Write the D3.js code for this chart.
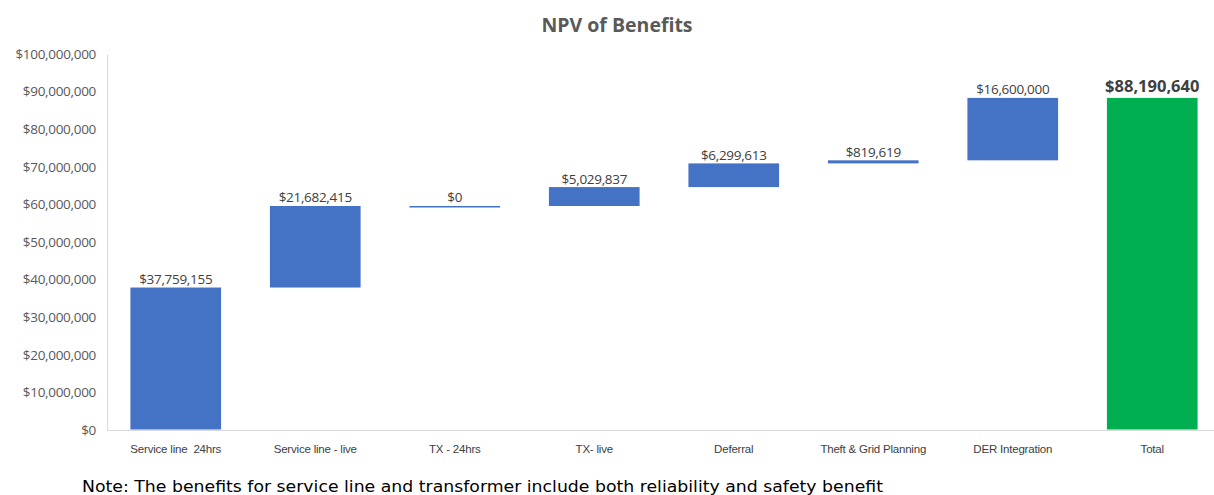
<!DOCTYPE html>
<html><head><meta charset="utf-8">
<script src="https://cdn.jsdelivr.net/npm/d3@7"></script>
<style>
body{margin:0;background:#fff;}
svg{display:block;}
</style></head>
<body><svg id="c" width="1214" height="495"></svg>
<script>
const categories = ["Service line\u00a0\u00a024hrs","Service line - live","TX - 24hrs","TX- live","Deferral","Theft & Grid Planning","DER Integration","Total"];
const values = [37759155,21682415,0,5029837,6299613,819619,16600000,88190640];
const isTotal = [false,false,false,false,false,false,false,true];
const yTicks = [0,10000000,20000000,30000000,40000000,50000000,60000000,70000000,80000000,90000000,100000000];

const svg = d3.select("#c");
const font = "'Open Sans', 'Liberation Sans', Arial, sans-serif";
const narrow = "'Liberation Sans', Arial, sans-serif";
const x = d3.scaleBand().domain(categories).range([106,1222]).paddingInner(0.35).paddingOuter(0.175);
const y = d3.scaleLinear().domain([0,100000000]).range([430,54]);

// compute waterfall
let run = 0;
const bars = categories.map((c,i)=>{
  let b, t;
  if(isTotal[i]){ b=0; t=values[i]; }
  else { b=run; t=run+values[i]; run=t; }
  return {c, v:values[i], b, t, total:isTotal[i]};
});

// title
svg.append("text").attr("x",617).attr("y",32).attr("text-anchor","middle")
  .style("font-family",font).style("font-size","19.5px").style("font-weight","bold").attr("fill","#595959")
  .text("NPV of Benefits");

// y axis
const fmt = d=>"$"+d3.format(",")(d);
const yAxis = svg.append("g").attr("transform","translate(107,0)")
  .call(d3.axisLeft(y).tickValues(yTicks).tickFormat(fmt).tickSize(0).tickPadding(11));
yAxis.select(".domain").attr("stroke","#d9d9d9");
yAxis.selectAll("text").style("font-family",font).style("font-size","13.5px").style("letter-spacing","-0.3px").attr("fill","#595959");

// x axis
const xAxis = svg.append("g").attr("transform","translate(0,430)")
  .call(d3.axisBottom(x).tickSize(0).tickPadding(15));
xAxis.select(".domain").attr("stroke","#d9d9d9").attr("d","M107,0.5H1214");
xAxis.selectAll("text").style("font-family",narrow).style("font-size","11.5px").style("letter-spacing","-0.2px").attr("fill","#404040");

// bars
svg.append("g").selectAll("rect").data(bars).join("rect")
  .attr("x",d=>x(d.c)).attr("width",x.bandwidth())
  .attr("y",d=>y(d.t)-0.5).attr("height",d=>Math.max(1.5,y(d.b)-y(d.t)))
  .attr("fill",d=>d.total?"#00B050":"#4472C4");

// labels
svg.append("g").selectAll("text").data(bars).join("text")
  .attr("x",d=>x(d.c)+x.bandwidth()/2)
  .attr("y",d=>y(d.t)-(d.total?6:4))
  .attr("text-anchor","middle")
  .style("font-family",font)
  .style("font-size",d=>d.total?"16.5px":"13.5px")
  .style("letter-spacing",d=>d.total?"0px":"-0.3px")
  .style("font-weight",d=>d.total?"bold":"normal")
  .attr("fill","#404040")
  .text(d=>fmt(d.v));

// note
svg.append("text").attr("x",82).attr("y",492)
  .attr("textLength",801).attr("lengthAdjust","spacingAndGlyphs")
  .style("font-family","'DejaVu Sans', 'Open Sans', sans-serif").style("font-size","16.5px").attr("fill","#000")
  .text("Note: The benefits for service line and transformer include both reliability and safety benefit");
</script></body></html>
